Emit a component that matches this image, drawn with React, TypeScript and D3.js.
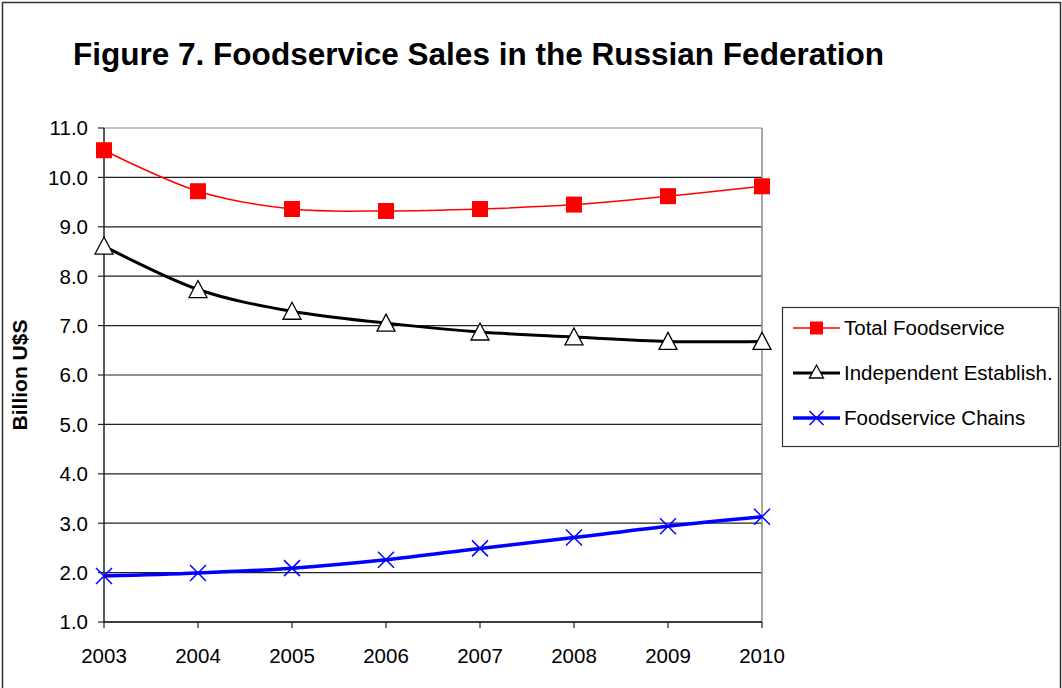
import React from "react";
import * as d3 from "d3";

const years = ["2003", "2004", "2005", "2006", "2007", "2008", "2009", "2010"];
const totalFoodservice = [10.55, 9.72, 9.36, 9.32, 9.36, 9.45, 9.62, 9.82];
const independentEstablish = [8.61, 7.73, 7.29, 7.05, 6.87, 6.77, 6.68, 6.68];
const foodserviceChains = [1.93, 1.99, 2.09, 2.26, 2.49, 2.71, 2.94, 3.13];
const yTicks = [1, 2, 3, 4, 5, 6, 7, 8, 9, 10, 11];
const seriesNames = ["Total Foodservice", "Independent Establish.", "Foodservice Chains"];

const W = 1062, H = 688;
const plot = { left: 104, right: 762, top: 128, bottom: 622 };
const FONT = "Arial, 'Liberation Sans', sans-serif";

export default function App() {
  const x = d3.scalePoint<string>().domain(years).range([plot.left, plot.right]);
  const y = d3.scaleLinear().domain([1, 11]).range([plot.bottom, plot.top]);
  const line = d3
    .line<number>()
    .x((_, i) => x(years[i]) as number)
    .y((v) => y(v))
    .curve(d3.curveCatmullRom.alpha(0.5));

  const square = (cx: number, cy: number, k: string, s = 16) => (
    <rect key={k} x={cx - s / 2} y={cy - s / 2} width={s} height={s} fill="#ff0000" />
  );
  const tri = (cx: number, cy: number, k: string, s = 18) => (
    <path
      key={k}
      d={`M${cx},${cy - s / 2}L${cx + s / 2},${cy + s / 2 - 1}L${cx - s / 2},${cy + s / 2 - 1}Z`}
      fill="#fff"
      stroke="#000"
      strokeWidth={1.3}
    />
  );
  const cross = (cx: number, cy: number, k: string, s = 8) => (
    <path
      key={k}
      d={`M${cx - s},${cy - s}L${cx + s},${cy + s}M${cx - s},${cy + s}L${cx + s},${cy - s}`}
      stroke="#0000ff"
      strokeWidth={1.5}
      fill="none"
    />
  );

  const legend = { x: 782, y: 307, w: 276, h: 139 };
  const legendRows = [328, 373, 418];

  return (
    <svg
      width={W}
      height={H}
      style={{ position: "absolute", left: 0, top: 0, background: "#fff" }}
      fontFamily={FONT}
    >
      <rect x={0} y={0} width={W} height={H} fill="#fff" />
      <rect x={2.5} y={2.5} width={1058} height={720} fill="none" stroke="#333" strokeWidth={1.5} />

      <text x={73} y={65} fontSize={31.5} fontWeight="bold" fill="#000" textLength={811} lengthAdjust="spacingAndGlyphs">
        Figure 7. Foodservice Sales in the Russian Federation
      </text>

      {/* gridlines */}
      {yTicks.map((t) => (
        <line
          key={"g" + t}
          x1={plot.left}
          x2={plot.right}
          y1={y(t)}
          y2={y(t)}
          stroke={t === 11 ? "#888" : "#222"}
          strokeWidth={1.2}
        />
      ))}
      {/* plot border right */}
      <line x1={plot.right} x2={plot.right} y1={plot.top} y2={plot.bottom} stroke="#888" strokeWidth={1.5} />
      {/* axes */}
      <line x1={plot.left} x2={plot.left} y1={plot.top} y2={plot.bottom} stroke="#222" strokeWidth={1.5} />
      <line x1={plot.left} x2={plot.right} y1={plot.bottom} y2={plot.bottom} stroke="#222" strokeWidth={1.5} />
      {yTicks.map((t) => (
        <g key={"yt" + t}>
          <line x1={plot.left - 6} x2={plot.left} y1={y(t)} y2={y(t)} stroke="#222" strokeWidth={1.2} />
          <text x={88} y={y(t)} dy="0.36em" textAnchor="end" fontSize={20.5} fill="#000">
            {t.toFixed(1)}
          </text>
        </g>
      ))}
      {years.map((yr) => (
        <g key={"xt" + yr}>
          <line x1={x(yr)} x2={x(yr)} y1={plot.bottom} y2={plot.bottom + 6} stroke="#222" strokeWidth={1.2} />
          <text x={x(yr)} y={663} textAnchor="middle" fontSize={20.5} fill="#000">
            {yr}
          </text>
        </g>
      ))}

      <text
        transform={`translate(27,${(plot.top + plot.bottom) / 2}) rotate(-90)`}
        textAnchor="middle"
        fontSize={21}
        fontWeight="bold"
        fill="#000"
      >
        Billion U$S
      </text>

      {/* series */}
      <path d={line(totalFoodservice) || ""} fill="none" stroke="#ff0000" strokeWidth={1.5} />
      <path d={line(independentEstablish) || ""} fill="none" stroke="#000" strokeWidth={3} />
      <path d={line(foodserviceChains) || ""} fill="none" stroke="#0000ff" strokeWidth={3.5} />
      {totalFoodservice.map((v, i) => square(x(years[i]) as number, y(v), "s" + i))}
      {independentEstablish.map((v, i) => tri(x(years[i]) as number, y(v), "t" + i))}
      {foodserviceChains.map((v, i) => cross(x(years[i]) as number, y(v), "c" + i))}

      {/* legend */}
      <rect x={legend.x + 0.5} y={legend.y + 0.5} width={legend.w} height={legend.h} fill="#fff" stroke="#333" strokeWidth={1.2} />
      {seriesNames.map((name, i) => {
        const cy = legendRows[i];
        const x1 = 793, x2 = 840, cx = (x1 + x2) / 2;
        const col = i === 0 ? "#ff0000" : i === 1 ? "#000" : "#0000ff";
        const sw = i === 0 ? 1.5 : i === 1 ? 3 : 3.5;
        return (
          <g key={"lg" + i}>
            <line x1={x1} x2={x2} y1={cy} y2={cy} stroke={col} strokeWidth={sw} />
            {i === 0 && square(cx, cy, "ls", 13)}
            {i === 1 && tri(cx, cy - 1, "lt", 14)}
            {i === 2 && cross(cx, cy, "lc", 7)}
            <text x={844} y={cy} dy="0.36em" fontSize={20.5} fill="#000">
              {name}
            </text>
          </g>
        );
      })}
    </svg>
  );
}
